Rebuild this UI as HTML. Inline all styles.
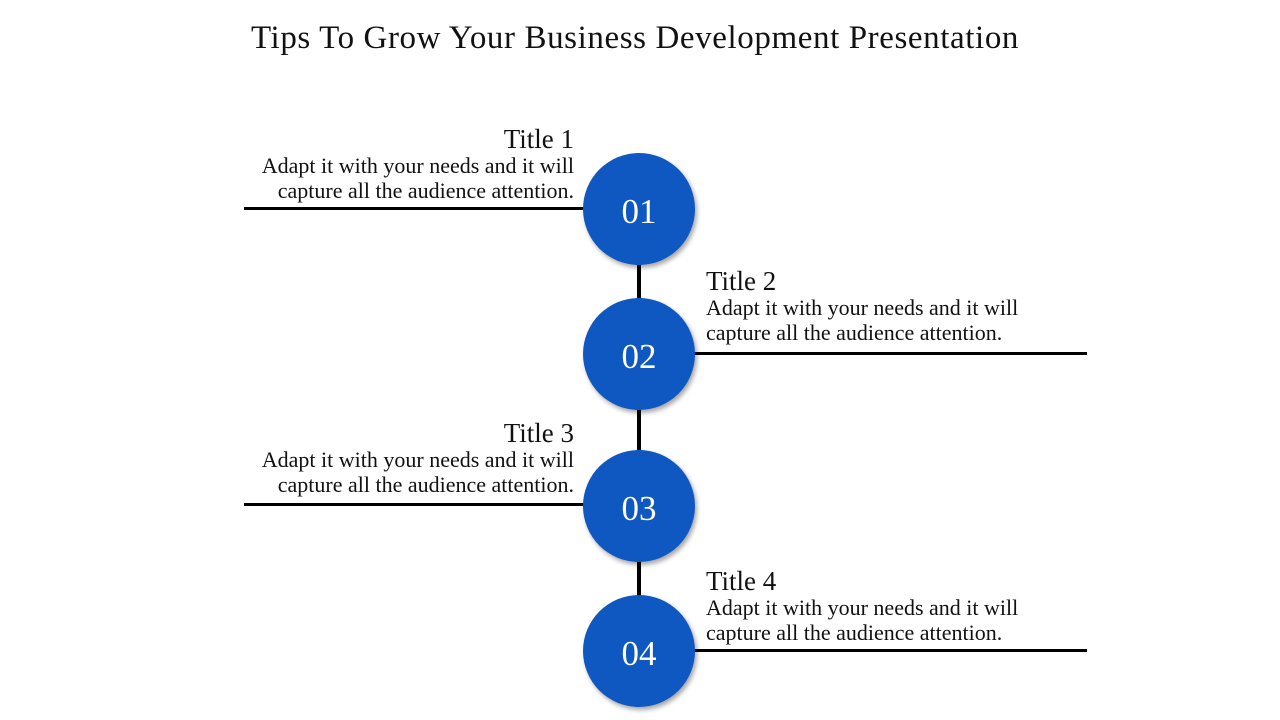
<!DOCTYPE html>
<html><head><style>
body{margin:0;width:1280px;height:720px;background:#fff;position:relative;overflow:hidden;font-family:"Liberation Serif",serif;color:#111}
.a{position:absolute}
.h{height:3px;background:#000}
.v{width:4px;background:#000;left:637px}
.c{width:112px;height:112px;border-radius:50%;background:#0F58C1;color:#fff;font-size:35px;line-height:118px;text-align:center;box-shadow:2px 3px 5px rgba(0,0,0,.35)}
.t{font-size:27px;line-height:28px}
.b{font-size:22px;line-height:25px}
.l{right:706px;text-align:right}
.r{left:706px}
</style></head><body>
<div class="a" style="top:16px;left:244px;width:782px;text-align:center;font-size:33px;letter-spacing:0.6px;line-height:44px;white-space:nowrap">Tips To Grow Your Business Development Presentation</div>
<div class="a v" style="top:260px;height:50px"></div>
<div class="a v" style="top:405px;height:50px"></div>
<div class="a v" style="top:555px;height:50px"></div>
<div class="a h" style="left:244px;width:340px;top:207px"></div>
<div class="a h" style="left:694px;width:393px;top:352px"></div>
<div class="a h" style="left:244px;width:340px;top:503px"></div>
<div class="a h" style="left:694px;width:393px;top:649px"></div>
<div class="a c" style="left:583px;top:153px">01</div>
<div class="a c" style="left:583px;top:298px">02</div>
<div class="a c" style="left:583px;top:450px">03</div>
<div class="a c" style="left:583px;top:595px">04</div>
<div class="a l" style="top:125px"><div class="t">Title 1</div><div class="b">Adapt it with your needs and it will<br>capture all the audience attention.</div></div>
<div class="a r" style="top:267px"><div class="t">Title 2</div><div class="b">Adapt it with your needs and it will<br>capture all the audience attention.</div></div>
<div class="a l" style="top:419px"><div class="t">Title 3</div><div class="b">Adapt it with your needs and it will<br>capture all the audience attention.</div></div>
<div class="a r" style="top:567px"><div class="t">Title 4</div><div class="b">Adapt it with your needs and it will<br>capture all the audience attention.</div></div>
</body></html>
